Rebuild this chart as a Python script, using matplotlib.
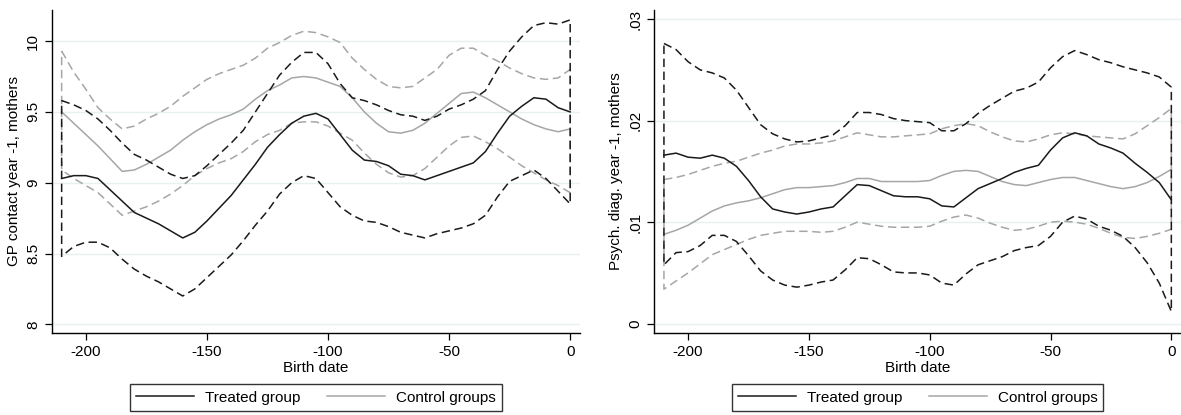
import numpy as np
import matplotlib
matplotlib.use("Agg")
import matplotlib.pyplot as plt
from matplotlib.lines import Line2D

plt.rcParams["font.family"] = ["Liberation Sans", "DejaVu Sans"]

# birth date grid (days)
birth_date = np.arange(-210, 1, 5)

# ---- GP contact year -1, mothers ----
gp_treated = [9.03, 9.05, 9.05, 9.03, 8.95, 8.87, 8.79, 8.75, 8.71, 8.66, 8.61, 8.65, 8.73, 8.82,
              8.91, 9.02, 9.13, 9.25, 9.34, 9.42, 9.47, 9.49, 9.45, 9.34, 9.23, 9.16, 9.15, 9.12,
              9.06, 9.05, 9.02, 9.05, 9.08, 9.11, 9.14, 9.22, 9.35, 9.47, 9.54, 9.60, 9.59, 9.53, 9.50]
gp_treated_hi = [9.58, 9.55, 9.51, 9.45, 9.37, 9.28, 9.20, 9.16, 9.11, 9.06, 9.03, 9.05, 9.12, 9.20,
                 9.28, 9.37, 9.50, 9.63, 9.76, 9.85, 9.92, 9.92, 9.84, 9.70, 9.60, 9.58, 9.55, 9.51,
                 9.48, 9.47, 9.44, 9.47, 9.52, 9.55, 9.59, 9.65, 9.80, 9.93, 10.03, 10.11, 10.13, 10.12, 10.15]
gp_treated_lo = [8.48, 8.55, 8.58, 8.58, 8.54, 8.46, 8.39, 8.34, 8.30, 8.25, 8.20, 8.25, 8.33, 8.41,
                 8.49, 8.59, 8.70, 8.80, 8.92, 9.00, 9.05, 9.03, 8.93, 8.83, 8.77, 8.73, 8.72, 8.69,
                 8.65, 8.63, 8.61, 8.64, 8.66, 8.68, 8.71, 8.77, 8.90, 9.01, 9.05, 9.09, 9.03, 8.94, 8.85]
gp_control = [9.50, 9.42, 9.34, 9.26, 9.17, 9.08, 9.09, 9.13, 9.18, 9.23, 9.30, 9.36, 9.41, 9.45,
              9.48, 9.52, 9.59, 9.65, 9.69, 9.74, 9.75, 9.74, 9.71, 9.68, 9.60, 9.50, 9.42, 9.36,
              9.35, 9.37, 9.42, 9.49, 9.56, 9.63, 9.64, 9.60, 9.55, 9.50, 9.45, 9.41, 9.38, 9.36, 9.38]
gp_control_hi = [9.93, 9.78, 9.66, 9.53, 9.45, 9.38, 9.40, 9.45, 9.49, 9.54, 9.61, 9.67, 9.73, 9.77,
                 9.80, 9.83, 9.88, 9.95, 9.99, 10.04, 10.07, 10.06, 10.03, 9.99, 9.88, 9.80, 9.73, 9.68,
                 9.67, 9.68, 9.74, 9.80, 9.90, 9.95, 9.95, 9.90, 9.86, 9.81, 9.77, 9.74, 9.73, 9.74, 9.80]
gp_control_lo = [9.09, 9.03, 8.98, 8.93, 8.85, 8.77, 8.80, 8.83, 8.87, 8.92, 8.98, 9.05, 9.10, 9.14,
                 9.17, 9.22, 9.29, 9.34, 9.37, 9.42, 9.43, 9.43, 9.40, 9.35, 9.30, 9.21, 9.13, 9.07,
                 9.04, 9.05, 9.10, 9.18, 9.26, 9.32, 9.33, 9.29, 9.24, 9.18, 9.12, 9.07, 9.02, 8.98, 8.93]

# ---- Psych. diag. year -1, mothers ----
ps_treated = [.0166, .0168, .0164, .0163, .0166, .0163, .0155, .0141, .0125, .0113, .0110, .0108, .0110, .0113,
              .0115, .0126, .0137, .0136, .0131, .0126, .0125, .0125, .0123, .0116, .0115, .0124, .0133, .0138,
              .0143, .0149, .0153, .0156, .0171, .0183, .0188, .0185, .0177, .0173, .0168, .0158, .0149, .0139, .0122]
ps_treated_hi = [.0276, .0270, .0258, .0250, .0247, .0242, .0230, .0213, .0196, .0187, .0182, .0179, .0180, .0183,
                 .0186, .0195, .0208, .0208, .0206, .0202, .0200, .0199, .0198, .0190, .0190, .0197, .0207, .0215,
                 .0222, .0229, .0232, .0238, .0252, .0263, .0269, .0265, .0260, .0257, .0253, .0250, .0247, .0243, .0233]
ps_treated_lo = [.0058, .0070, .0071, .0077, .0087, .0087, .0081, .0067, .0052, .0043, .0038, .0036, .0038, .0041,
                 .0043, .0053, .0065, .0064, .0058, .0051, .0050, .0050, .0048, .0040, .0038, .0049, .0058, .0062,
                 .0066, .0072, .0075, .0077, .0086, .0100, .0106, .0103, .0096, .0092, .0086, .0075, .0060, .0040, .0012]
ps_control = [.0088, .0092, .0097, .0104, .0111, .0116, .0119, .0121, .0124, .0128, .0132, .0134, .0134, .0135,
              .0136, .0139, .0143, .0143, .0140, .0140, .0140, .0140, .0141, .0146, .0150, .0151, .0150, .0145,
              .0140, .0137, .0136, .0139, .0142, .0144, .0144, .0141, .0138, .0135, .0133, .0135, .0139, .0145, .0152]
ps_control_hi = [.0142, .0144, .0147, .0151, .0155, .0158, .0160, .0164, .0168, .0171, .0175, .0177, .0177, .0178,
                 .0180, .0184, .0188, .0186, .0184, .0184, .0185, .0186, .0187, .0192, .0195, .0197, .0195, .0189,
                 .0184, .0180, .0179, .0182, .0186, .0188, .0187, .0185, .0184, .0183, .0182, .0187, .0195, .0203, .0212]
ps_control_lo = [.0034, .0042, .0050, .0059, .0068, .0073, .0078, .0083, .0087, .0089, .0091, .0091, .0091, .0090,
                 .0091, .0095, .0100, .0098, .0096, .0095, .0095, .0095, .0096, .0101, .0105, .0107, .0104, .0099,
                 .0095, .0092, .0093, .0096, .0100, .0101, .0100, .0098, .0094, .0089, .0085, .0084, .0086, .0089, .0093]

gp_ticks = [8, 8.5, 9, 9.5, 10]
gp_ticklabels = ["8", "8.5", "9", "9.5", "10"]
ps_ticks = [0, .01, .02, .03]
ps_ticklabels = ["0", ".01", ".02", ".03"]
x_ticks = [-200, -150, -100, -50, 0]

BLACK = "#1a1a1a"
GRAY = "#a6a6a6"
GRID = "#e9f0f1"
DASH = (0, (5.5, 3))


def ci_loop(x, hi, lo):
    """CI band drawn as one closed dashed outline (upper, down at 0, lower, back up)."""
    x = np.asarray(x)
    xs = np.concatenate([x, x[::-1], x[:1]])
    ys = np.concatenate([hi, lo[::-1], hi[:1]])
    return xs, ys


def draw_panel(ax, treated, t_hi, t_lo, control, c_hi, c_lo, yticks, yticklabels, ylim, ylabel):
    for t in yticks:
        ax.axhline(t, color=GRID, lw=1.0, zorder=0)

    xs, ys = ci_loop(birth_date, np.array(c_hi), np.array(c_lo))
    ax.plot(xs, ys, color=GRAY, lw=1.1, linestyle=DASH, zorder=2)
    ax.plot(birth_date, control, color=GRAY, lw=1.1, zorder=3)
    xs, ys = ci_loop(birth_date, np.array(t_hi), np.array(t_lo))
    ax.plot(xs, ys, color=BLACK, lw=1.1, linestyle=DASH, zorder=4)
    ax.plot(birth_date, treated, color=BLACK, lw=1.1, zorder=5)

    ax.set_xlim(-214, 4)
    ax.set_ylim(*ylim)
    ax.set_xticks(x_ticks)
    ax.set_xticklabels([str(v) for v in x_ticks], fontsize=11)
    ax.set_yticks(yticks)
    ax.set_yticklabels(yticklabels, fontsize=11, rotation=90, va="center")
    ax.tick_params(direction="out", length=5, width=0.9, colors="black")
    ax.set_xlabel("Birth date", fontsize=11, labelpad=2)
    ax.set_ylabel(ylabel, fontsize=11, labelpad=4)
    for s in ["top", "right"]:
        ax.spines[s].set_visible(False)
    for s in ["left", "bottom"]:
        ax.spines[s].set_linewidth(1.0)


fig = plt.figure(figsize=(11.81, 4.15), dpi=100)
ax1 = fig.add_axes([0.044, 0.198, 0.447, 0.778])
ax2 = fig.add_axes([0.554, 0.198, 0.446, 0.778])

draw_panel(ax1, gp_treated, gp_treated_hi, gp_treated_lo, gp_control, gp_control_hi, gp_control_lo,
           gp_ticks, gp_ticklabels, (7.94, 10.22), "GP contact year -1, mothers")
draw_panel(ax2, ps_treated, ps_treated_hi, ps_treated_lo, ps_control, ps_control_hi, ps_control_lo,
           ps_ticks, ps_ticklabels, (-0.0009, 0.0309), "Psych. diag. year -1, mothers")

handles = [Line2D([], [], color=BLACK, lw=1.1), Line2D([], [], color=GRAY, lw=1.1)]
labels = ["Treated group", "Control groups"]
for ax in (ax1, ax2):
    pos = ax.get_position()
    leg = fig.legend(handles, labels, loc="center", ncol=2,
                     bbox_to_anchor=(pos.x0 + pos.width / 2, 0.042),
                     fontsize=11, frameon=True, fancybox=False,
                     handlelength=3.8, columnspacing=1.75, handletextpad=0.7,
                     borderpad=0.4, borderaxespad=0)
    leg.get_frame().set_edgecolor("black")
    leg.get_frame().set_linewidth(1.0)

fig.savefig("out.png", dpi=100)
